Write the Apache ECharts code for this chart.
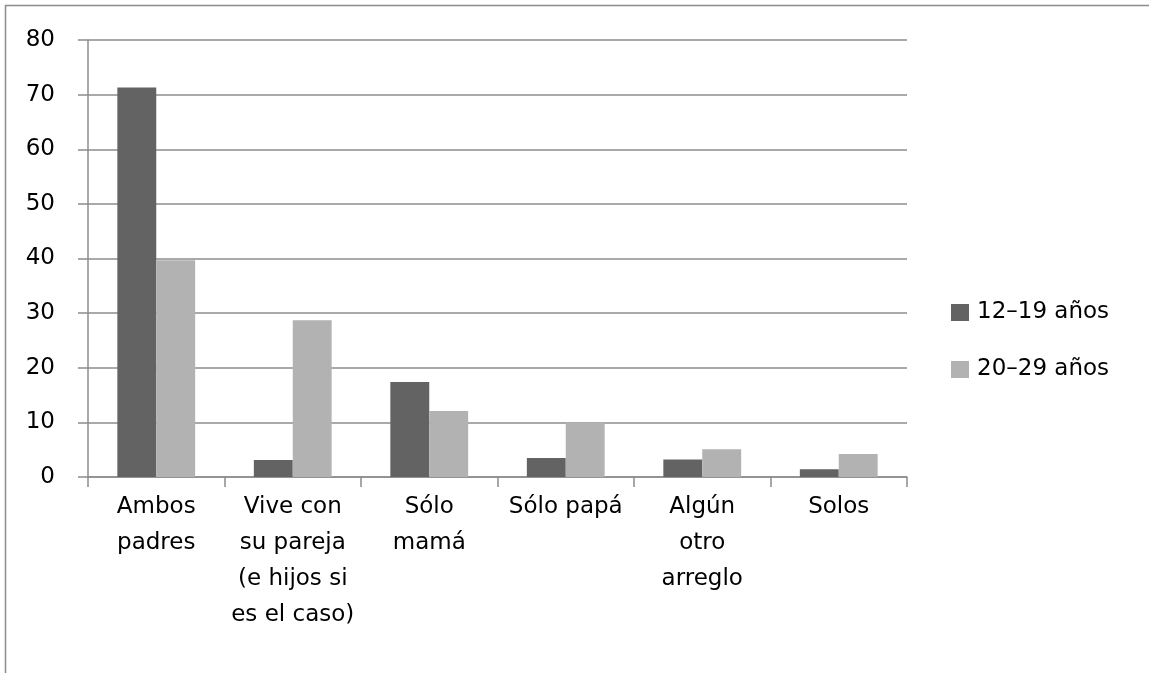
<!DOCTYPE html>
<html><head><meta charset="utf-8">
<script src="https://cdn.jsdelivr.net/npm/echarts@6/dist/echarts.min.js"></script>
<style>html,body{margin:0;padding:0;background:#fff}#c{width:1149px;height:673px}</style>
</head><body><div id="c"></div>
<script>
const categories = ["Ambos\npadres", "Vive con\nsu pareja\n(e hijos si\nes el caso)", "Sólo\nmamá", "Sólo papá", "Algún\notro\narreglo", "Solos"];
const seriesNames = ["12–19 años", "20–29 años"];
const teen = [71.3, 3.1, 17.4, 3.5, 3.2, 1.4];
const young = [39.7, 28.7, 12.1, 10.0, 5.1, 4.2];
const yTicks = [0, 10, 20, 30, 40, 50, 60, 70, 80];

const chart = echarts.init(document.getElementById('c'), null, {renderer: 'canvas'});
const font = "DejaVu Sans";
chart.setOption({
  animation: false,
  backgroundColor: '#fff',
  graphic: [{type: 'rect', shape: {x: 5.5, y: 5.5, width: 1200, height: 700}, style: {fill: 'none', stroke: '#8c8c8c', lineWidth: 1.5}, silent: true}],
  grid: {left: 88, right: 242, top: 40, bottom: 196},
  legend: {
    orient: 'vertical', left: 951, top: 301, padding: 0, itemWidth: 18, itemHeight: 17, itemGap: 34,
    icon: 'rect',
    textStyle: {fontFamily: font, fontSize: 23, color: '#000', padding: [0, 0, 0, 3]},
    data: seriesNames.map(n => ({name: n}))
  },
  xAxis: {
    type: 'category', data: categories,
    axisLine: {lineStyle: {color: '#8c8c8c', width: 1.5}},
    axisTick: {show: true, length: 10, lineStyle: {color: '#8c8c8c', width: 1.5}},
    axisLabel: {interval: 0, fontFamily: font, fontSize: 23, color: '#000', lineHeight: 36, margin: 12}
  },
  yAxis: {
    type: 'value', min: 0, max: 80, interval: 10,
    axisLine: {show: true, lineStyle: {color: '#8c8c8c', width: 1.5}},
    axisTick: {show: true, length: 10, lineStyle: {color: '#8c8c8c', width: 1.5}},
    splitLine: {lineStyle: {color: '#8c8c8c', width: 1.5}},
    axisLabel: {fontFamily: font, fontSize: 23, color: '#000', margin: 33,
      formatter: v => yTicks.includes(v) ? String(v) : ''}
  },
  series: [
    {name: seriesNames[0], type: 'bar', data: teen, barGap: '0%', barCategoryGap: '43%', itemStyle: {color: '#636363'}},
    {name: seriesNames[1], type: 'bar', data: young, itemStyle: {color: '#b2b2b2'}}
  ]
});
</script></body></html>
